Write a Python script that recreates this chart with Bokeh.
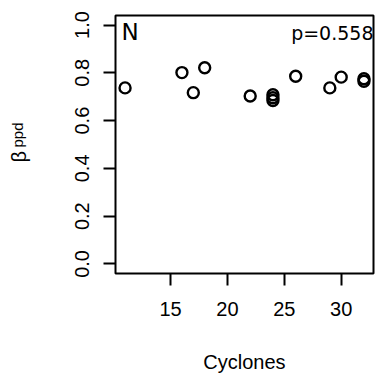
import math
from bokeh.plotting import figure
from bokeh.models import Range1d, FixedTicker, Label, PrintfTickFormatter
from bokeh.embed import file_html
from bokeh.resources import INLINE

cyclones = [11, 16, 17, 18, 22, 24, 24, 24, 26, 29, 30, 32, 32]
beta_ppd = [0.737, 0.801, 0.717, 0.821, 0.703, 0.708, 0.696, 0.684, 0.786, 0.737, 0.782, 0.775, 0.765]
x_ticks = [15, 20, 25, 30]
y_ticks = [0.0, 0.2, 0.4, 0.6, 0.8, 1.0]
panel_letter = "N"
p_value_text = "p=0.558"
x_label = "Cyclones"
y_label_main = "β"
y_label_sub = "ppd"

FONT = "Liberation Sans"

p = figure(width=378, height=376, output_backend="svg", toolbar_location=None,
           x_range=Range1d(10.16, 32.84), y_range=Range1d(-0.04, 1.04),
           min_border_left=115, min_border_right=5, min_border_top=15, min_border_bottom=103)
p.background_fill_color = "white"
p.border_fill_color = "white"
p.outline_line_color = "black"
p.outline_line_width = 2
p.xgrid.visible = False
p.ygrid.visible = False

p.scatter(cyclones, beta_ppd, marker="circle", size=11, line_color="black",
          line_width=2.4, fill_alpha=0)

for ax in (p.xaxis[0], p.yaxis[0]):
    ax.axis_line_color = None
    ax.major_tick_out = 12
    ax.major_tick_in = 0
    ax.minor_tick_line_color = None
    ax.major_tick_line_width = 2
    ax.major_tick_line_color = "black"
    ax.major_label_text_font = FONT
    ax.major_label_text_font_size = "20px"
    ax.major_label_text_color = "black"

p.xaxis.ticker = FixedTicker(ticks=x_ticks)
p.xaxis.major_label_standoff = 16
p.xaxis.axis_label = x_label
p.xaxis.axis_label_text_font = FONT
p.xaxis.axis_label_text_font_size = "20px"
p.xaxis.axis_label_text_font_style = "normal"
p.xaxis.axis_label_text_color = "black"
p.xaxis.axis_label_standoff = 32

p.yaxis.ticker = FixedTicker(ticks=y_ticks)
p.yaxis.formatter = PrintfTickFormatter(format="%.1f")
p.yaxis.major_label_orientation = "vertical"
p.yaxis.major_label_standoff = 14

# y-axis label: beta with subscript "ppd", rotated, in the left side panel
p.add_layout(Label(x=-38, y=126, x_units="screen", y_units="screen", text=y_label_sub,
                   angle=math.pi / 2, text_font=FONT, text_font_size="15px",
                   text_align="left", text_baseline="alphabetic", text_color="black"), "left")
p.add_layout(Label(x=-15, y=111, x_units="screen", y_units="screen", text=y_label_main,
                   angle=math.pi / 2, text_font=FONT, text_font_size="20px",
                   text_align="left", text_baseline="alphabetic", text_color="black"), "left")

p.add_layout(Label(x=6, y=242, x_units="screen", y_units="screen", text=panel_letter,
                   text_font="DejaVu Sans", text_font_size="23px",
                   text_align="left", text_baseline="alphabetic", text_color="black"))
p.add_layout(Label(x=258, y=241, x_units="screen", y_units="screen", text=p_value_text,
                   text_font="DejaVu Sans", text_font_size="19px",
                   text_align="right", text_baseline="alphabetic", text_color="black"))

open("out.html", "w").write(file_html(p, INLINE))
